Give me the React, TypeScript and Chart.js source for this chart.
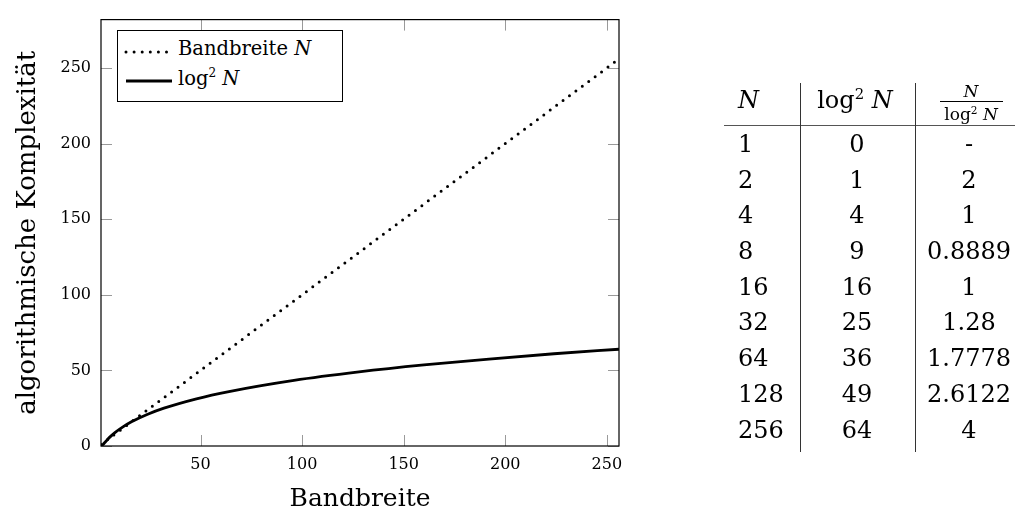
import React, { useEffect, useRef } from "react";
import { Chart, registerables } from "chart.js";

Chart.register(...registerables);

// ---- data ----
const bandwidthN = [1, 2, 4, 8, 16, 32, 64, 128, 256];
const bandwidthValues = [1, 2, 4, 8, 16, 32, 64, 128, 256];
const logSqN = [1, 2, 3, 4, 6, 8, 12, 16, 24, 32, 48, 64, 96, 128, 160, 192, 224, 256];
const logSqValues = [0, 1, 2.5, 4, 6.7, 9, 12.8, 16, 21, 25, 31.2, 36, 43.4, 49, 53.6, 57.5, 61, 64];
const xTicks = [50, 100, 150, 200, 250];
const yTicks = [0, 50, 100, 150, 200, 250];
const xTitle = "Bandbreite";
const yTitle = "algorithmische Komplexität";

const tableN = ["1", "2", "4", "8", "16", "32", "64", "128", "256"];
const tableLogSq = ["0", "1", "4", "9", "16", "25", "36", "49", "64"];
const tableRatio = ["-", "2", "1", "0.8889", "1", "1.28", "1.7778", "2.6122", "4"];

const FONT = "'DejaVu Serif', serif";

const tickPlugin = {
  id: "insideTicks",
  beforeDatasetsDraw(chart: any) {
    const { ctx, chartArea, scales } = chart;
    const { left, right, top, bottom } = chartArea;
    const x = scales.x;
    const y = scales.y;
    ctx.save();
    ctx.strokeStyle = "#9a9a9a";
    ctx.lineWidth = 1;
    ctx.beginPath();
    x.ticks.forEach((t: any) => {
      const px = Math.round(x.getPixelForValue(t.value)) + 0.5;
      ctx.moveTo(px, bottom);
      ctx.lineTo(px, bottom - 11);
      ctx.moveTo(px, top);
      ctx.lineTo(px, top + 11);
    });
    y.ticks.forEach((t: any) => {
      const py = Math.round(y.getPixelForValue(t.value)) + 0.5;
      ctx.moveTo(left, py);
      ctx.lineTo(left + 11, py);
      ctx.moveTo(right, py);
      ctx.lineTo(right - 11, py);
    });
    ctx.stroke();
    ctx.restore();
  },
  afterDatasetsDraw(chart: any) {
    const { ctx, chartArea } = chart;
    const { left, right, top, bottom } = chartArea;
    ctx.save();
    ctx.strokeStyle = "#000";
    ctx.lineWidth = 1.2;
    ctx.strokeRect(left, top, right - left, bottom - top);
    ctx.restore();
  },
};

function PlotChart() {
  const ref = useRef<HTMLCanvasElement | null>(null);
  useEffect(() => {
    if (!ref.current) return;
    const chart = new Chart(ref.current, {
      type: "line",
      data: {
        datasets: [
          {
            label: "Bandbreite N",
            data: bandwidthN.map((n, i) => ({ x: n, y: bandwidthValues[i] })),
            borderColor: "#000",
            borderWidth: 3,
            borderDash: [0, 8],
            borderCapStyle: "round",
            pointRadius: 0,
            fill: false,
          },
          {
            label: "log² N",
            data: logSqN.map((n, i) => ({ x: n, y: logSqValues[i] })),
            borderColor: "#000",
            borderWidth: 2.8,
            pointRadius: 0,
            cubicInterpolationMode: "monotone",
            fill: false,
          },
        ],
      },
      options: {
        responsive: false,
        animation: false,
        layout: { padding: { left: 0, top: 15, right: 396, bottom: 0 } },
        plugins: { legend: { display: false }, tooltip: { enabled: false } },
        scales: {
          x: {
            type: "linear",
            min: 1,
            max: 256,
            grid: { display: false, drawTicks: false },
            border: { display: false },
            afterBuildTicks: (s: any) => {
              s.ticks = xTicks.map((v) => ({ value: v }));
            },
            afterFit: (s: any) => {
              s.height = 66;
            },
            ticks: {
              font: { family: FONT, size: 16 },
              color: "#000",
              padding: 9,
              maxRotation: 0,
              autoSkip: false,
            },
            title: {
              display: true,
              text: xTitle,
              color: "#000",
              font: { family: FONT, size: 25, lineHeight: 1 },
              padding: 0,
            },
          },
          y: {
            type: "linear",
            min: 0,
            max: 282,
            grid: { display: false, drawTicks: false },
            border: { display: false },
            afterBuildTicks: (s: any) => {
              s.ticks = yTicks.map((v) => ({ value: v }));
            },
            afterFit: (s: any) => {
              s.width = 101;
            },
            ticks: {
              font: { family: FONT, size: 16 },
              color: "#000",
              padding: 10,
              autoSkip: false,
            },
            title: {
              display: true,
              text: yTitle,
              color: "#000",
              font: { family: FONT, size: 26, lineHeight: 1 },
              padding: { top: 15, bottom: 0 },
            },
          },
        },
      },
      plugins: [tickPlugin],
    } as any);
    return () => chart.destroy();
  }, []);
  return (
    <canvas
      ref={ref}
      width={1015}
      height={512}
      style={{ position: "absolute", left: 0, top: 0, display: "block" }}
    />
  );
}

function Sup({ children }: { children: React.ReactNode }) {
  return (
    <span style={{ fontSize: "0.62em", position: "relative", top: "-0.62em" }}>{children}</span>
  );
}

function Legend() {
  const fs = 19.5;
  return (
    <>
      <div
        style={{
          position: "absolute",
          left: 117,
          top: 30,
          width: 226,
          height: 72,
          boxSizing: "border-box",
          border: "1px solid #000",
          background: "#fff",
        }}
      />
      <svg style={{ position: "absolute", left: 120, top: 46 }} width={56} height={12}>
        <line x1={6} y1={6} x2={50} y2={6} stroke="#000" strokeWidth={3} strokeDasharray="0 8.1" strokeLinecap="round" />
      </svg>
      <svg style={{ position: "absolute", left: 120, top: 75 }} width={56} height={12}>
        <line x1={6} y1={6} x2={52} y2={6} stroke="#000" strokeWidth={3} />
      </svg>
      <div style={{ position: "absolute", left: 178, top: 55 - 16.5, fontSize: fs, lineHeight: 1, whiteSpace: "nowrap" }}>
        Bandbreite <i>N</i>
      </div>
      <div style={{ position: "absolute", left: 178, top: 85 - 16.5, fontSize: fs, lineHeight: 1, whiteSpace: "nowrap" }}>
        log<Sup>2</Sup> <i>N</i>
      </div>
    </>
  );
}

function Table() {
  const fs = 24;
  const rowTop = 143.5;
  const rowGap = 35.7;
  const c1 = 738;
  const c2 = 857;
  const c3 = 969;
  const cell = (text: React.ReactNode, cx: number, cy: number, align: "left" | "center", key: string, size = fs) => (
    <div
      key={key}
      style={{
        position: "absolute",
        left: align === "left" ? cx : cx - 70,
        width: align === "left" ? 90 : 140,
        textAlign: align,
        top: cy - size * 0.48,
        fontSize: size,
        lineHeight: 1,
        whiteSpace: "nowrap",
      }}
    >
      {text}
    </div>
  );
  const rows: React.ReactNode[] = [];
  tableN.forEach((n, i) => {
    const cy = rowTop + i * rowGap;
    rows.push(cell(n, c1, cy, "left", "a" + i));
    rows.push(cell(tableLogSq[i], c2, cy, "center", "b" + i));
    rows.push(cell(tableRatio[i], c3, cy, "center", "c" + i));
  });
  return (
    <>
      {cell(<i>N</i>, c1, 100, "left", "h1")}
      {cell(
        <>
          log<Sup>2</Sup> <i>N</i>
        </>,
        855,
        100,
        "center",
        "h2"
      )}
      {cell(<i>N</i>, 971, 91, "center", "h3n", 17)}
      <div style={{ position: "absolute", left: 940, top: 101, width: 63, height: 1, background: "#000" }} />
      {cell(
        <>
          log<Sup>2</Sup> <i>N</i>
        </>,
        971,
        114.5,
        "center",
        "h3d",
        17
      )}
      <div style={{ position: "absolute", left: 724, top: 125, width: 291, height: 1.3, background: "#555" }} />
      <div style={{ position: "absolute", left: 800, top: 82.7, width: 1.2, height: 369, background: "#333" }} />
      <div style={{ position: "absolute", left: 914.5, top: 82.7, width: 1.2, height: 369, background: "#333" }} />
      {rows}
    </>
  );
}

export default function App() {
  return (
    <div
      style={{
        position: "fixed",
        left: 0,
        top: 0,
        width: 1015,
        height: 512,
        background: "#fff",
        overflow: "hidden",
        fontFamily: FONT,
        color: "#000",
      }}
    >
      <PlotChart />
      <Legend />
      <Table />
    </div>
  );
}
